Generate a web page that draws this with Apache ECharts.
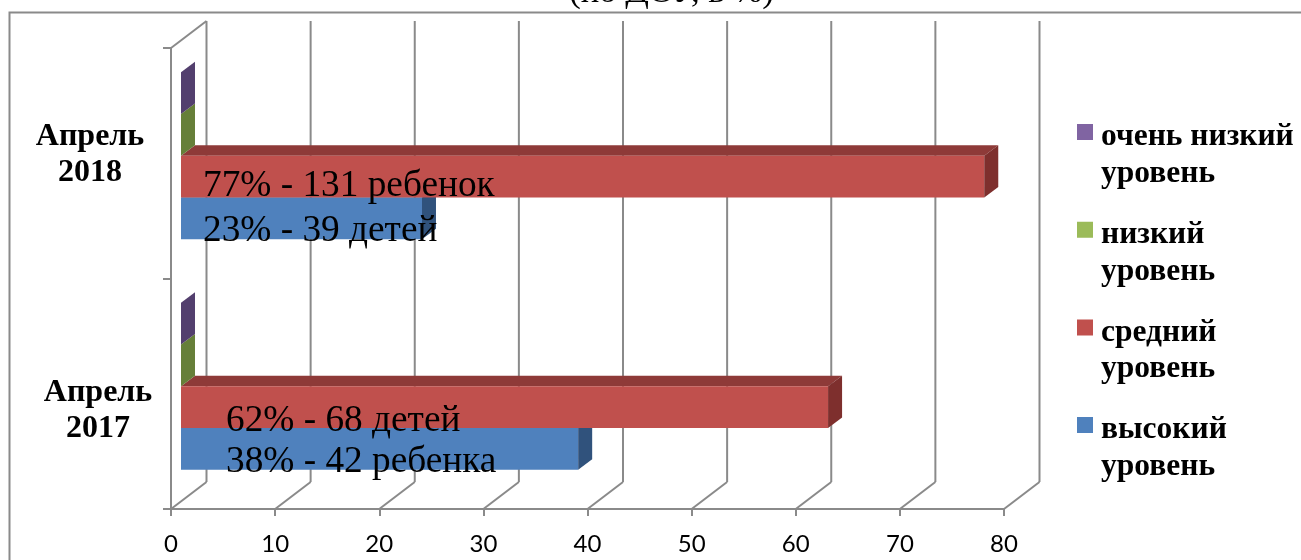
<!DOCTYPE html>
<html>
<head>
<meta charset="utf-8">
<style>html,body{margin:0;padding:0;background:#fff;overflow:hidden}#c{width:1301px;height:560px}</style>
<script src="https://cdn.jsdelivr.net/npm/echarts@6/dist/echarts.min.js"></script>
</head>
<body>
<div id="c"></div>
<script>
const categories = ['Апрель 2017', 'Апрель 2018'];
const seriesNames = ['высокий уровень', 'средний уровень', 'низкий уровень', 'очень низкий уровень'];
const high = [38, 23];
const mid = [62, 77];
const low = [0, 0];
const veryLow = [0, 0];
const highLabels = ['38% - 42 ребенка', '23% - 39 детей'];
const midLabels = ['62% - 68 детей', '77% - 131 ребенок'];
const xTicks = [0, 10, 20, 30, 40, 50, 60, 70, 80];
const titleText = '(по ДОУ, в %)';

const GRAY = '#8A8A8A';
const LINE_W = 2;
const palette = [
  {front: '#4F81BD', top: '#3F6797', side: '#30527C'},
  {front: '#C0504D', top: '#8E3A38', side: '#7E2F2D'},
  {front: '#9BBB59', top: '#7C9647', side: '#667F39'},
  {front: '#8064A2', top: '#66507F', side: '#533F6E'}
];
const DX = 14, DY = 10.5;           // depth of a bar
const WALL_X = 35.5, WALL_Y = 27;   // depth of the chart box

function poly(points, fill) {
  return {type: 'polygon', shape: {points}, style: {fill}};
}

function barRenderer(stackIndex) {
  const c = palette[stackIndex];
  return function (params, api) {
    const v = api.value(0), cat = api.value(1);
    const zero = api.coord([0, cat]);
    const band = api.size([0, 1])[1];
    const h = band * 0.1811;
    const center = zero[1] - 7.5;
    const bottom = center + 2 * h - stackIndex * h;
    const top = bottom - h;
    const x0 = zero[0] + 10;
    const x1 = v > 0 ? api.coord([v, cat])[0] + 11.5 : x0;
    const children = [];
    if (v > 0) {
      children.push(poly([[x0, top], [x0 + DX, top - DY], [x1 + DX, top - DY], [x1, top]], c.top));
      children.push(poly([[x0, top], [x1, top], [x1, bottom], [x0, bottom]], c.front));
    }
    children.push(poly([[x1, top], [x1 + DX, top - DY], [x1 + DX, bottom - DY], [x1, bottom]], c.side));
    return {type: 'group', children};
  };
}

function wallRenderer(params, api) {
  const box = params.coordSys;
  const x = api.coord([api.value(0), 0])[0];
  const bottom = box.y + box.height, topY = box.y;
  const style = {stroke: GRAY, lineWidth: LINE_W, fill: 'none'};
  const children = [
    {type: 'line', shape: {x1: x + WALL_X, y1: topY - WALL_Y, x2: x + WALL_X, y2: bottom - WALL_Y}, style},
    {type: 'line', shape: {x1: x, y1: bottom, x2: x + WALL_X, y2: bottom - WALL_Y}, style}
  ];
  if (params.dataIndex === 0) {
    children.push({type: 'line', shape: {x1: x, y1: topY, x2: x + WALL_X, y2: topY - WALL_Y}, style});
  }
  return {type: 'group', children};
}

function labelRenderer(params, api) {
  const cat = api.value(0), stackIndex = api.value(1);
  const zero = api.coord([0, cat]);
  const h = api.size([0, 1])[1] * 0.1811;
  const center = zero[1] - 7.5;
  const bottom = center + 2 * h - stackIndex * h;
  const indent = cat === 1 ? 22 : 45;
  const nudge = [[13, 14.5], [13, 10]][cat][stackIndex];
  return {
    type: 'text',
    style: {
      x: zero[0] + 10 + indent,
      y: bottom - h / 2 + nudge,
      text: api.value(2),
      fill: '#000',
      font: '37.3px "Liberation Serif"',
      verticalAlign: 'middle',
      align: 'left'
    }
  };
}

const labelData = [];
categories.forEach((_, i) => {
  labelData.push([i, 0, highLabels[i]]);
  labelData.push([i, 1, midLabels[i]]);
});

const seriesValues = [high, mid, low, veryLow];
const catFont = {fontFamily: 'Liberation Serif', fontWeight: 'bold', fontSize: 32, lineHeight: 36, color: '#000'};

const option = {
  animation: false,
  backgroundColor: '#fff',
  title: {
    text: titleText, left: 666.5, top: -30, textAlign: 'center',
    textStyle: {fontFamily: 'Liberation Serif', fontWeight: 'normal', fontSize: 34.7, color: '#000'}
  },
  graphic: [{
    type: 'polyline', silent: true, z: -1,
    shape: {points: [[9.5, 570], [9.5, 12.5], [1310, 12.5]]},
    style: {stroke: GRAY, lineWidth: LINE_W, fill: 'none'}
  }],
  grid: {left: 171, right: 297, top: 48, bottom: 51, containLabel: false},
  xAxis: {
    type: 'value', min: 0, max: 80, interval: 10,
    splitLine: {show: false},
    axisLine: {show: true, lineStyle: {color: GRAY, width: LINE_W}},
    axisTick: {show: true, length: 7, lineStyle: {color: GRAY, width: LINE_W}},
    axisLabel: {fontFamily: 'Lato', fontSize: 24, color: '#000', margin: 23,
      formatter: v => String(xTicks[xTicks.indexOf(v)])}
  },
  yAxis: {
    type: 'category', data: categories,
    axisLine: {show: true, onZero: false, lineStyle: {color: GRAY, width: LINE_W}},
    axisTick: {show: true, length: 8, lineStyle: {color: GRAY, width: LINE_W}},
    axisLabel: {
      align: 'center', margin: 73, interval: 0,
      formatter: function (v) {
        const p = v.split(' ');
        return v.indexOf('2018') >= 0
          ? '{b|' + p[0] + '}\n{b|' + p[1] + '}\n{s17|\u00A0}'
          : '{s34|\u00A0}\n{a|' + p[0] + '}\n{a|' + p[1] + '}';
      },
      rich: {
        a: catFont,
        b: Object.assign({}, catFont, {padding: [0, 16, 0, 0]}),
        s17: {fontSize: 1, lineHeight: 17},
        s34: {fontSize: 1, lineHeight: 34}
      }
    }
  },
  legend: {
    left: 1077, top: 118.5, padding: 0, orient: 'vertical', selectedMode: false,
    data: seriesNames.slice().reverse(),
    itemWidth: 19, itemHeight: 74, itemGap: 23.7,
    icon: 'path://M0 0H0ZM0 5.5H16V21.5H0ZM19 74H19Z',
    formatter: n => { const i = n.lastIndexOf(' '); return n.slice(0, i) + '\n' + n.slice(i + 1); },
    textStyle: {fontFamily: 'Liberation Serif', fontWeight: 'bold', fontSize: 31.5, lineHeight: 36.5, color: '#000'}
  },
  series: [
    {type: 'custom', silent: true, z: 1, renderItem: wallRenderer, data: xTicks.map(t => [t]), encode: {x: 0}, clip: false}
  ].concat(seriesNames.map((name, s) => ({
    type: 'custom', name, silent: true, z: 2 + s,
    itemStyle: {color: palette[s].front},
    renderItem: barRenderer(s),
    data: seriesValues[s].map((v, i) => [v, i]),
    encode: {x: 0, y: 1}, clip: false
  }))).concat([
    {type: 'custom', silent: true, z: 10, renderItem: labelRenderer, data: labelData, encode: {y: 0}, clip: false}
  ])
};
echarts.init(document.getElementById('c'), null, {renderer: 'canvas'}).setOption(option);
</script>
</body>
</html>
